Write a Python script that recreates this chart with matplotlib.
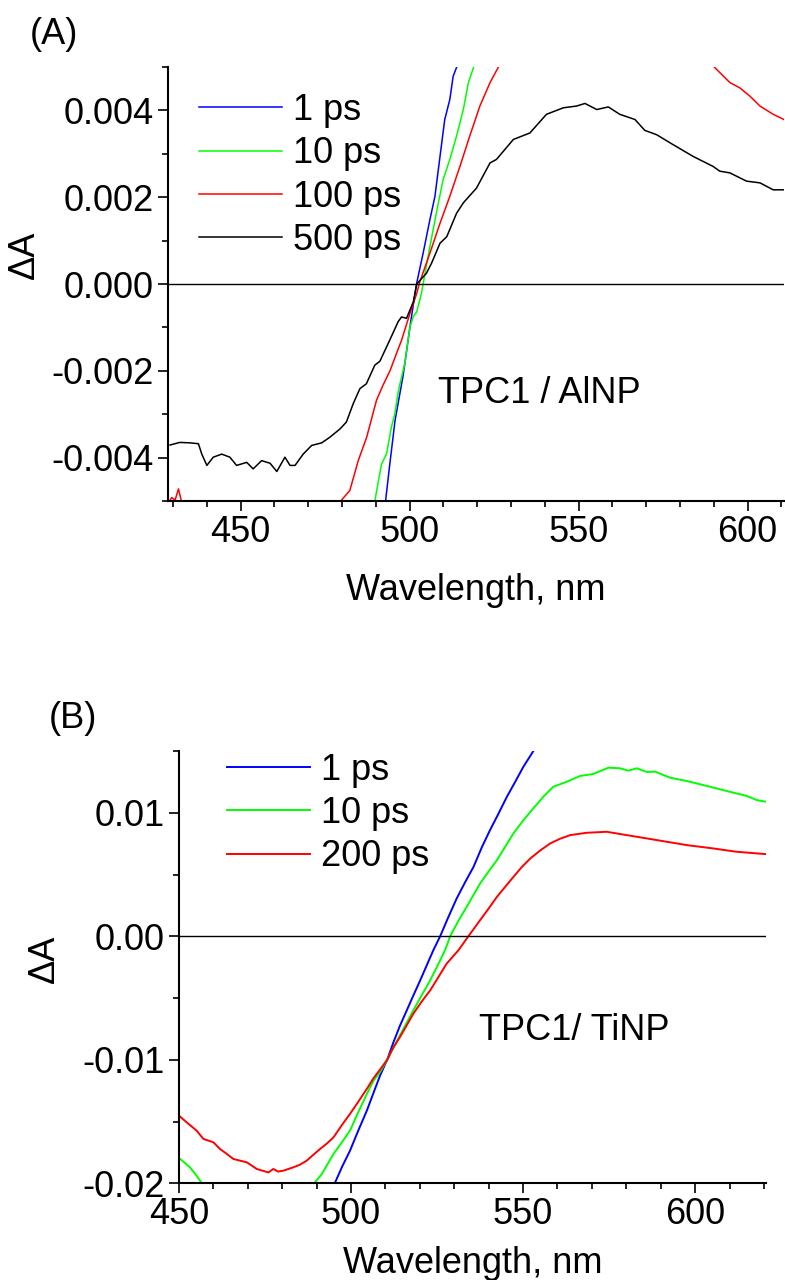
import numpy as np
import matplotlib
matplotlib.use("Agg")
import matplotlib.pyplot as plt
from matplotlib.ticker import MultipleLocator

plt.rcParams['font.family'] = ['Liberation Sans', 'DejaVu Sans']
plt.rcParams['font.size'] = 26

nan = np.nan

# ---------------- Panel A : TPC1 / AlNP ----------------
a_labels = ["1 ps", "10 ps", "100 ps", "500 ps"]
a_colors = ["#0000ff", "#00ff00", "#ff0000", "#000000"]

a_x_1ps = [492.9, 493.0, 494.2, 495.7, 498.1, 500.1, 501.6, 502.1, 504.0, 506.0,
           507.5, 509.0, 510.4, 511.9, 512.9, 514.1]
a_y_1ps = [-0.00501, -0.00492, -0.00411, -0.00314, -0.00210, -0.00099, -0.00022, 0.00002,
           0.00071, 0.00148, 0.00202, 0.00294, 0.00379, 0.00425, 0.00479, 0.00503]

a_x_10ps = [489.7, 490.7, 491.7, 493.2, 494.6, 495.6, 496.6, 497.6, 498.6, 500.1, 501.1,
            502.1, 503.5, 504.0, 506.0, 507.9, 509.9, 511.9, 513.9, 515.9, 517.4, 519.1]
a_y_10ps = [-0.00501, -0.00457, -0.00415, -0.00391, -0.00330, -0.00300, -0.00250, -0.00215,
            -0.00183, -0.00099, -0.00075, -0.00064, -0.00022, 0.0, 0.00086, 0.00163,
            0.00240, 0.00287, 0.00341, 0.00402, 0.00464, 0.00503]

a_x_100ps = [428.6, 429.6, 430.6, 431.6, 432.5, 433.5, nan,
             479.2, 479.5, 482.3, 484.8, 487.3, 490.2, 492.2, 494.2, 496.6, 497.6, 500.1,
             502.1, 502.9, 506.0, 509.0, 511.9, 514.9, 517.8, 520.8, 523.8, 526.5, nan,
             589.5, 594.8, 597.7, 600.7, 603.7, 607.6, 610.8]
a_y_100ps = [-0.00505, -0.00492, -0.00498, -0.00472, -0.00502, -0.00530, nan,
             -0.00530, -0.00501, -0.00476, -0.00407, -0.00353, -0.00268, -0.00232, -0.00200,
             -0.00150, -0.00130, -0.00068, -0.00022, 0.00002, 0.00071, 0.00140, 0.00202,
             0.00271, 0.00341, 0.00410, 0.00464, 0.00503, nan,
             0.00505, 0.00464, 0.00452, 0.00433, 0.00410, 0.00391, 0.00379]

a_x_500ps = [429.1, 432.0, 435.0, 437.5, 438.5, 440.0, 441.9, 444.4, 446.8, 448.8, 451.8,
             453.7, 456.2, 458.7, 460.7, 463.1, 464.6, 466.1, 468.5, 471.0, 474.0, 476.4,
             479.4, 481.3, 483.3, 485.3, 487.2, 489.7, 491.2, 494.2, 496.6, 497.6, 499.1,
             501.1, 502.1, 505.0, 506.5, 509.0, 511.0, 513.9, 515.9, 519.8, 523.8, 525.7,
             530.7, 535.6, 540.5, 545.5, 549.4, 551.9, 555.4, 558.8, 562.2, 566.7, 569.6,
             573.1, 578.0, 583.9, 589.8, 591.8, 594.8, 599.7, 603.7, 607.6, 610.8]
a_y_500ps = [-0.00371, -0.00365, -0.00366, -0.00368, -0.00392, -0.00418, -0.00399, -0.00392,
             -0.00399, -0.00418, -0.00411, -0.00426, -0.00407, -0.00413, -0.00432, -0.00399,
             -0.00418, -0.00418, -0.00392, -0.00372, -0.00366, -0.00353, -0.00334, -0.00318,
             -0.00276, -0.00241, -0.00230, -0.00187, -0.00178, -0.00128, -0.00087, -0.00076,
             -0.00079, -0.00041, 0.0, 0.00025, 0.00048, 0.00094, 0.00109, 0.00163, 0.00187,
             0.00221, 0.00279, 0.00287, 0.00333, 0.00348, 0.00391, 0.00406, 0.00410, 0.00416,
             0.00402, 0.00408, 0.00391, 0.00379, 0.00354, 0.00344, 0.00321, 0.00294, 0.00271,
             0.00260, 0.00256, 0.00237, 0.00233, 0.00217, 0.00217]

# ---------------- Panel B : TPC1 / TiNP ----------------
b_labels = ["1 ps", "10 ps", "200 ps"]
b_colors = ["#0000ff", "#00ff00", "#ff0000"]

b_x_1ps = [495.1, 497.5, 499.7, 502.0, 504.6, 506.5, 508.4, 510.5, 512.3, 514.2, 516.2,
           518.1, 520.1, 522.0, 523.9, 525.9, 528.2, 530.7, 533.2, 535.6, 538.0, 540.4,
           542.8, 545.3, 547.7, 550.1, 553.0, 553.6]
b_y_1ps = [-0.0201, -0.0186, -0.01736, -0.0158, -0.01411, -0.0127, -0.0113, -0.0100,
           -0.00860, -0.00725, -0.00600, -0.00480, -0.00357, -0.00235, -0.00114, 0.0,
           0.00150, 0.00306, 0.00440, 0.00562, 0.00720, 0.00860, 0.00990, 0.01130,
           0.01250, 0.01373, 0.01500, 0.0153]

b_x_10ps = [450.0, 451.5, 453.2, 455.1, 456.9, 457.5, nan,
            488.5, 489.0, 491.5, 494.9, 497.3, 499.7, 502.0, 504.6, 506.5, 508.4, 510.5,
            513.3, 515.7, 518.1, 520.5, 523.0, 525.2, 527.3, 528.8, 531.2, 533.6, 535.5,
            537.5, 540.0, 542.4, 544.8, 547.2, 550.1, 553.0, 555.9, 558.8, 562.7, 566.6,
            570.4, 574.8, 578.2, 580.6, 583.1, 586.0, 588.4, 592.7, 597.6, 603.4, 609.2,
            615.0, 617.9, 620.6]
b_y_10ps = [-0.01795, -0.0183, -0.01871, -0.01938, -0.0201, -0.0205, nan,
            -0.0205, -0.0201, -0.01925, -0.01762, -0.0167, -0.01573, -0.0143, -0.01276,
            -0.0117, -0.0110, -0.0100, -0.00850, -0.00725, -0.00600, -0.00480, -0.00357,
            -0.00235, -0.00114, 0.0, 0.00125, 0.00238, 0.00330, 0.00427, 0.00525, 0.00616,
            0.00725, 0.00833, 0.00940, 0.01036, 0.01130, 0.01211, 0.01251, 0.01298,
            0.01314, 0.01365, 0.01360, 0.01341, 0.01360, 0.01330, 0.01333, 0.01284,
            0.01257, 0.01217, 0.01176, 0.01136, 0.01103, 0.01089]

b_x_200ps = [450.0, 452.2, 455.1, 457.1, 460.0, 461.9, 463.8, 465.8, 469.7, 472.6, 476.0,
             477.4, 478.8, 480.3, 483.2, 485.1, 487.1, 489.0, 491.0, 492.9, 494.9, 497.3,
             499.7, 502.1, 504.6, 506.5, 508.4, 510.5, 512.3, 514.2, 516.2, 518.1, 520.5,
             523.0, 525.4, 527.8, 531.2, 534.1, 535.8, 537.5, 540.0, 542.4, 544.8, 547.2,
             549.6, 552.1, 555.0, 557.9, 560.8, 563.7, 568.5, 574.3, 580.1, 586.0, 591.8,
             597.6, 605.3, 612.1, 620.6]
b_y_200ps = [-0.01452, -0.01506, -0.01573, -0.01641, -0.01668, -0.01722, -0.01760, -0.01803,
             -0.01830, -0.01884, -0.01912, -0.01884, -0.01905, -0.01898, -0.01871, -0.01850,
             -0.01817, -0.01770, -0.01722, -0.01680, -0.01628, -0.01530, -0.01438, -0.01340,
             -0.01235, -0.01150, -0.01080, -0.01000, -0.00900, -0.00817, -0.00720, -0.00627,
             -0.00530, -0.00438, -0.00330, -0.00221, -0.00114, 0.0, 0.00065, 0.00130,
             0.00225, 0.00319, 0.00400, 0.00481, 0.00560, 0.00630, 0.00695, 0.00752,
             0.00790, 0.00819, 0.00838, 0.00846, 0.00819, 0.00792, 0.00765, 0.00738,
             0.00711, 0.00684, 0.00665]

a_series = [(a_x_1ps, a_y_1ps), (a_x_10ps, a_y_10ps), (a_x_100ps, a_y_100ps), (a_x_500ps, a_y_500ps)]
b_series = [(b_x_1ps, b_y_1ps), (b_x_10ps, b_y_10ps), (b_x_200ps, b_y_200ps)]

fig = plt.figure(figsize=(7.85, 12.8), dpi=100)
axA = fig.add_axes([168/785, 1 - 501/1280, (784-168)/785, (501-67)/1280])
axB = fig.add_axes([179/785, 1 - 1183.3/1280, (766-179)/785, (1183.3-751)/1280])


def style(ax):
    for s in ["top", "right"]:
        ax.spines[s].set_visible(False)
    for s in ["left", "bottom"]:
        ax.spines[s].set_linewidth(1.5)
    ax.tick_params(which="major", direction="out", length=7, width=1.2, labelsize=26, pad=3)
    ax.tick_params(which="minor", direction="out", length=4, width=1.2)


# Panel A
for (x, y), c, lab in zip(a_series, a_colors, a_labels):
    axA.plot(x, y, color=c, lw=1.1, label=lab)
axA.axhline(0, color="black", lw=1.0)
axA.set_xlim(428.5, 610.8)
axA.set_ylim(-0.005, 0.005)
axA.xaxis.set_major_locator(MultipleLocator(50))
axA.xaxis.set_minor_locator(MultipleLocator(10))
axA.yaxis.set_major_locator(MultipleLocator(0.002))
axA.yaxis.set_minor_locator(MultipleLocator(0.001))
axA.yaxis.set_major_formatter(matplotlib.ticker.FormatStrFormatter("%.3f"))
style(axA)
axA.set_xlabel("Wavelength, nm", fontsize=26)
axA.set_ylabel("ΔA", fontsize=26)
axA.xaxis.set_label_coords(0.5, -0.166)
axA.yaxis.set_label_coords(-0.205, 0.567)
axA.text(508.4, -0.00252, "TPC1 / AlNP", fontsize=26, ha="left", va="center")
axA.legend(loc="upper left", bbox_to_anchor=(0.051, 0.94), frameon=False, fontsize=26,
           handlelength=2.3, handletextpad=0.3, labelspacing=0.23, borderpad=0, borderaxespad=0)

# Panel B
for (x, y), c, lab in zip(b_series, b_colors, b_labels):
    axB.plot(x, y, color=c, lw=1.4, label=lab)
axB.axhline(0, color="black", lw=1.0)
axB.set_xlim(450, 620.6)
axB.set_ylim(-0.02, 0.015)
axB.xaxis.set_major_locator(MultipleLocator(50))
axB.xaxis.set_minor_locator(MultipleLocator(10))
axB.yaxis.set_major_locator(MultipleLocator(0.01))
axB.yaxis.set_minor_locator(MultipleLocator(0.005))
axB.yaxis.set_major_formatter(matplotlib.ticker.FormatStrFormatter("%.2f"))
style(axB)
axB.set_xlabel("Wavelength, nm", fontsize=26)
axB.set_ylabel("ΔA", fontsize=26)
axB.xaxis.set_label_coords(0.5, -0.144)
axB.yaxis.set_label_coords(-0.2, 0.519)
axB.text(537.2, -0.0076, "TPC1/ TiNP", fontsize=26, ha="left", va="center")
axB.legend(loc="upper left", bbox_to_anchor=(0.082, 0.996), frameon=False, fontsize=26,
           handlelength=2.3, handletextpad=0.3, labelspacing=0.23, borderpad=0, borderaxespad=0)

fig.text(54/785, 1 - 35/1280, "(A)", fontsize=26, ha="center", va="center")
fig.text(73/785, 1 - 718/1280, "(B)", fontsize=26, ha="center", va="center")

fig.savefig("out.png", dpi=100)
